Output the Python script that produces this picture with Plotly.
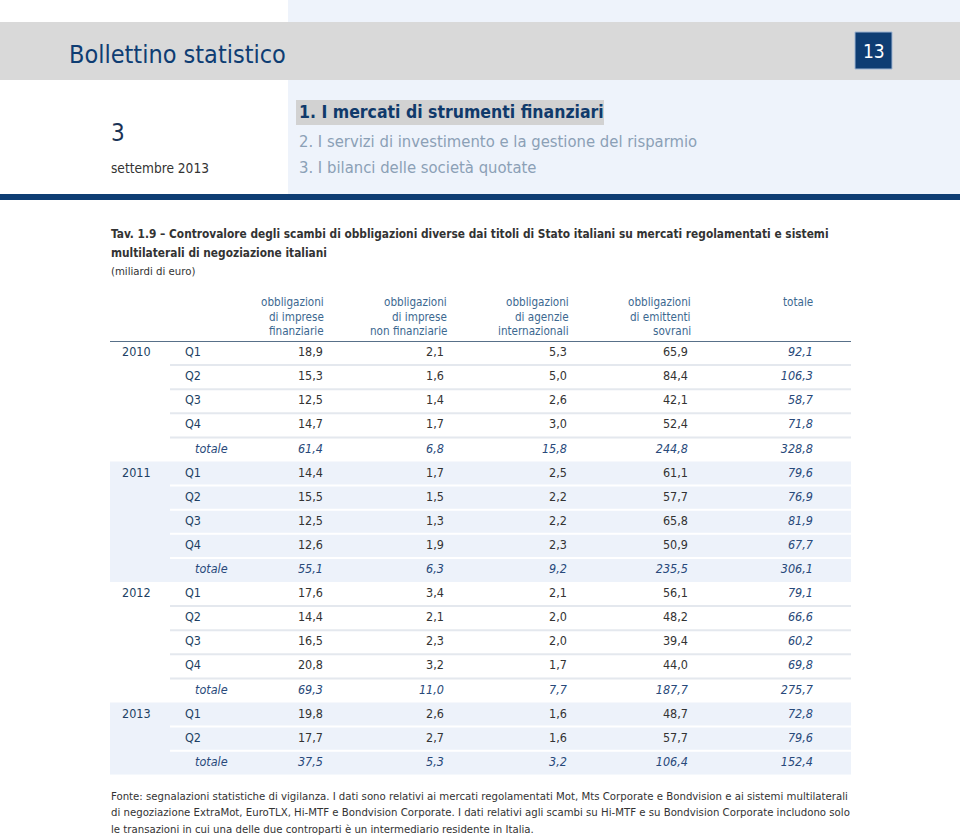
import plotly.graph_objects as go

# ---------------- data ----------------
years = ["2010", "2011", "2012", "2013"]
quarters = [["Q1", "Q2", "Q3", "Q4"],
            ["Q1", "Q2", "Q3", "Q4"],
            ["Q1", "Q2", "Q3", "Q4"],
            ["Q1", "Q2"]]
total_label = "totale"
col_headers = [["obbligazioni", "di imprese", "finanziarie"],
               ["obbligazioni", "di imprese", "non finanziarie"],
               ["obbligazioni", "di agenzie", "internazionali"],
               ["obbligazioni", "di emittenti", "sovrani"],
               ["totale"]]

fin_q     = [18.9, 15.3, 12.5, 14.7, 14.4, 15.5, 12.5, 12.6, 17.6, 14.4, 16.5, 20.8, 19.8, 17.7]
nonfin_q  = [2.1, 1.6, 1.4, 1.7, 1.7, 1.5, 1.3, 1.9, 3.4, 2.1, 2.3, 3.2, 2.6, 2.7]
agenz_q   = [5.3, 5.0, 2.6, 3.0, 2.5, 2.2, 2.2, 2.3, 2.1, 2.0, 2.0, 1.7, 1.6, 1.6]
sovr_q    = [65.9, 84.4, 42.1, 52.4, 61.1, 57.7, 65.8, 50.9, 56.1, 48.2, 39.4, 44.0, 48.7, 57.7]
tot_q     = [92.1, 106.3, 58.7, 71.8, 79.6, 76.9, 81.9, 67.7, 79.1, 66.6, 60.2, 69.8, 72.8, 79.6]

fin_y     = [61.4, 55.1, 69.3, 37.5]
nonfin_y  = [6.8, 6.3, 11.0, 5.3]
agenz_y   = [15.8, 9.2, 7.7, 3.2]
sovr_y    = [244.8, 235.5, 187.7, 106.4]
tot_y     = [328.8, 306.1, 275.7, 152.4]

page_title = "Bollettino statistico"
page_number = "13"
issue_number = "3"
issue_date = "settembre 2013"
sections = ["1. I mercati di strumenti finanziari",
            "2. I servizi di investimento e la gestione del risparmio",
            "3. I bilanci delle società quotate"]
table_title = ["Tav. 1.9 – Controvalore degli scambi di obbligazioni diverse dai titoli di Stato italiani su mercati regolamentati e sistemi",
               "multilaterali di negoziazione italiani"]
table_unit = "(miliardi di euro)"
footnote = ["Fonte: segnalazioni statistiche di vigilanza. I dati sono relativi ai mercati regolamentati Mot, Mts Corporate e Bondvision e ai sistemi multilaterali",
            "di negoziazione ExtraMot, EuroTLX, Hi-MTF e Bondvision Corporate. I dati relativi agli scambi su Hi-MTF e su Bondvision Corporate includono solo",
            "le transazioni in cui una delle due controparti è un intermediario residente in Italia."]

# ---------------- styles ----------------
W, H = 960, 836
FONT = "DejaVu Sans Condensed, Liberation Sans Narrow, Arial Narrow, sans-serif"
NAVY = "#0e3d73"
GREY_BAND = "#d9d9d9"
LIGHT_BLUE = "#eef3fb"
BLOCK_BLUE = "#edf2fa"
TXT = "#333333"
HEAD_BLUE = "#3c6890"
LABEL_BLUE = "#213f63"
TOT_BLUE = "#28497a"

ROW_TOP_PX = 341.0
ROW_H_PX = 24.1
COL_RIGHT = [326, 449, 571, 693, 815]
VAL_RIGHT = [323, 444, 567, 688, 813]
X_YEAR, X_Q, X_TOT = 122, 185, 195
TABLE_L, TABLE_R, SEP_L = 110, 851, 170
CELL_SIZE = 12.5


def py(y):
    return 1 - y / H


def fmt(v):
    return f"{v:.1f}".replace(".", ",")


# ---------------- build rows ----------------
rows = []
qi = 0
for g, yr in enumerate(years):
    for k, q in enumerate(quarters[g]):
        rows.append(dict(group=g, year=yr if k == 0 else "", label=q, kind="q",
                         vals=[fin_q[qi], nonfin_q[qi], agenz_q[qi], sovr_q[qi], tot_q[qi]]))
        qi += 1
    rows.append(dict(group=g, year="", label=total_label, kind="t",
                     vals=[fin_y[g], nonfin_y[g], agenz_y[g], sovr_y[g], tot_y[g]]))

n_rows = len(rows)
idx = list(range(n_rows))
dom_top = py(ROW_TOP_PX)
dom_bot = py(ROW_TOP_PX + n_rows * ROW_H_PX)

fig = go.Figure()

yr_rows = [i for i, r in enumerate(rows) if r["year"]]
fig.add_trace(go.Scatter(x=[X_YEAR] * len(yr_rows), y=yr_rows, mode="text",
                         text=[rows[i]["year"] for i in yr_rows], textposition="middle right",
                         textfont=dict(family=FONT, size=CELL_SIZE, color=LABEL_BLUE), hoverinfo="skip"))
q_rows = [i for i, r in enumerate(rows) if r["kind"] == "q"]
fig.add_trace(go.Scatter(x=[X_Q] * len(q_rows), y=q_rows, mode="text",
                         text=[rows[i]["label"] for i in q_rows], textposition="middle right",
                         textfont=dict(family=FONT, size=CELL_SIZE, color=LABEL_BLUE), hoverinfo="skip"))
t_rows = [i for i, r in enumerate(rows) if r["kind"] == "t"]
fig.add_trace(go.Scatter(x=[X_TOT] * len(t_rows), y=t_rows, mode="text",
                         text=["<i>" + rows[i]["label"] + "</i>" for i in t_rows], textposition="middle right",
                         textfont=dict(family=FONT, size=CELL_SIZE, color=TOT_BLUE), hoverinfo="skip"))

for c in range(5):
    texts, colors = [], []
    for r in rows:
        s = fmt(r["vals"][c])
        if r["kind"] == "t" or c == 4:
            texts.append("<i>" + s + "</i>")
            colors.append(TOT_BLUE)
        else:
            texts.append(s)
            colors.append(TXT)
    fig.add_trace(go.Scatter(x=[VAL_RIGHT[c]] * n_rows, y=idx, mode="text", text=texts,
                             textposition="middle left",
                             textfont=dict(family=FONT, size=CELL_SIZE, color=colors), hoverinfo="skip"))

shapes = []
shapes.append(dict(type="rect", xref="x", yref="paper", x0=288, x1=W, y0=py(194), y1=py(0),
                   fillcolor=LIGHT_BLUE, line=dict(width=0), layer="below"))
shapes.append(dict(type="rect", xref="x", yref="paper", x0=0, x1=W, y0=py(80), y1=py(22),
                   fillcolor=GREY_BAND, line=dict(width=0), layer="below"))
shapes.append(dict(type="rect", xref="x", yref="paper", x0=0, x1=W, y0=py(200), y1=py(194),
                   fillcolor=NAVY, line=dict(width=0), layer="below"))
shapes.append(dict(type="rect", xref="x", yref="paper", x0=855, x1=892, y0=py(69), y1=py(32),
                   fillcolor=NAVY, line=dict(width=1, color="#9fb6d3"), layer="below"))
shapes.append(dict(type="rect", xref="x", yref="paper", x0=296, x1=604, y0=py(125), y1=py(100),
                   fillcolor="#d2d2d2", line=dict(width=0), layer="below"))

for g in range(len(years)):
    g_rows = [i for i, r in enumerate(rows) if r["group"] == g]
    if g % 2 == 1:
        shapes.append(dict(type="rect", xref="x", yref="y", x0=TABLE_L, x1=TABLE_R,
                           y0=g_rows[0] - 0.5, y1=g_rows[-1] + 0.5,
                           fillcolor=BLOCK_BLUE, line=dict(width=0), layer="below"))
    sep_col = "#ffffff" if g % 2 == 1 else "#e4e8ee"
    for i in g_rows[:-1]:
        shapes.append(dict(type="line", xref="x", yref="y", x0=SEP_L, x1=TABLE_R,
                           y0=i + 0.5, y1=i + 0.5, line=dict(width=2, color=sep_col), layer="below"))
shapes.append(dict(type="line", xref="x", yref="y", x0=TABLE_L, x1=TABLE_R, y0=-0.5, y1=-0.5,
                   line=dict(width=2, color="#587089"), layer="above"))

ann = []


def A(text, x, y, size, color, xanchor="left", bold=False):
    ann.append(dict(text=("<b>" + text + "</b>") if bold else text, x=x, y=py(y), xref="x", yref="paper",
                    xanchor=xanchor, yanchor="middle", showarrow=False,
                    font=dict(family=FONT, size=size, color=color)))


A(page_title, 67, 54, 25, NAVY)
A(page_number, 873.5, 50.5, 19, "#ffffff", xanchor="center")
A(issue_number, 109, 133, 24, "#1b3356")
A(issue_date, 109, 168, 13.6, TXT)
A(sections[0], 297, 112, 17.5, "#103a6b", bold=True)
A(sections[1], 297, 141, 16.5, "#8ba0b6")
A(sections[2], 297, 168, 16.5, "#8ba0b6")
A(table_title[0], 109, 234, 11.8, TXT, bold=True)
A(table_title[1], 109, 253, 11.8, TXT, bold=True)
A(table_unit, 109, 271, 11.3, TXT)
for c, lines in enumerate(col_headers):
    for k, line in enumerate(lines):
        A(line, COL_RIGHT[c], 301.5 + 15 * k, 11.6, HEAD_BLUE, xanchor="right")
for k, line in enumerate(footnote):
    A(line, 109, 796 + 16.8 * k, 11.3, TXT)

fig.update_layout(
    width=W, height=H, margin=dict(l=0, r=0, t=0, b=0),
    paper_bgcolor="#ffffff", plot_bgcolor="rgba(0,0,0,0)",
    showlegend=False, shapes=shapes, annotations=ann,
    xaxis=dict(range=[0, W], domain=[0, 1], visible=False, fixedrange=True),
    yaxis=dict(range=[n_rows - 0.5, -0.5], domain=[dom_bot, dom_top], visible=False, fixedrange=True),
)

fig.write_html("out.html", config={"displayModeBar": False},
               post_script="document.body.style.margin='0';")
